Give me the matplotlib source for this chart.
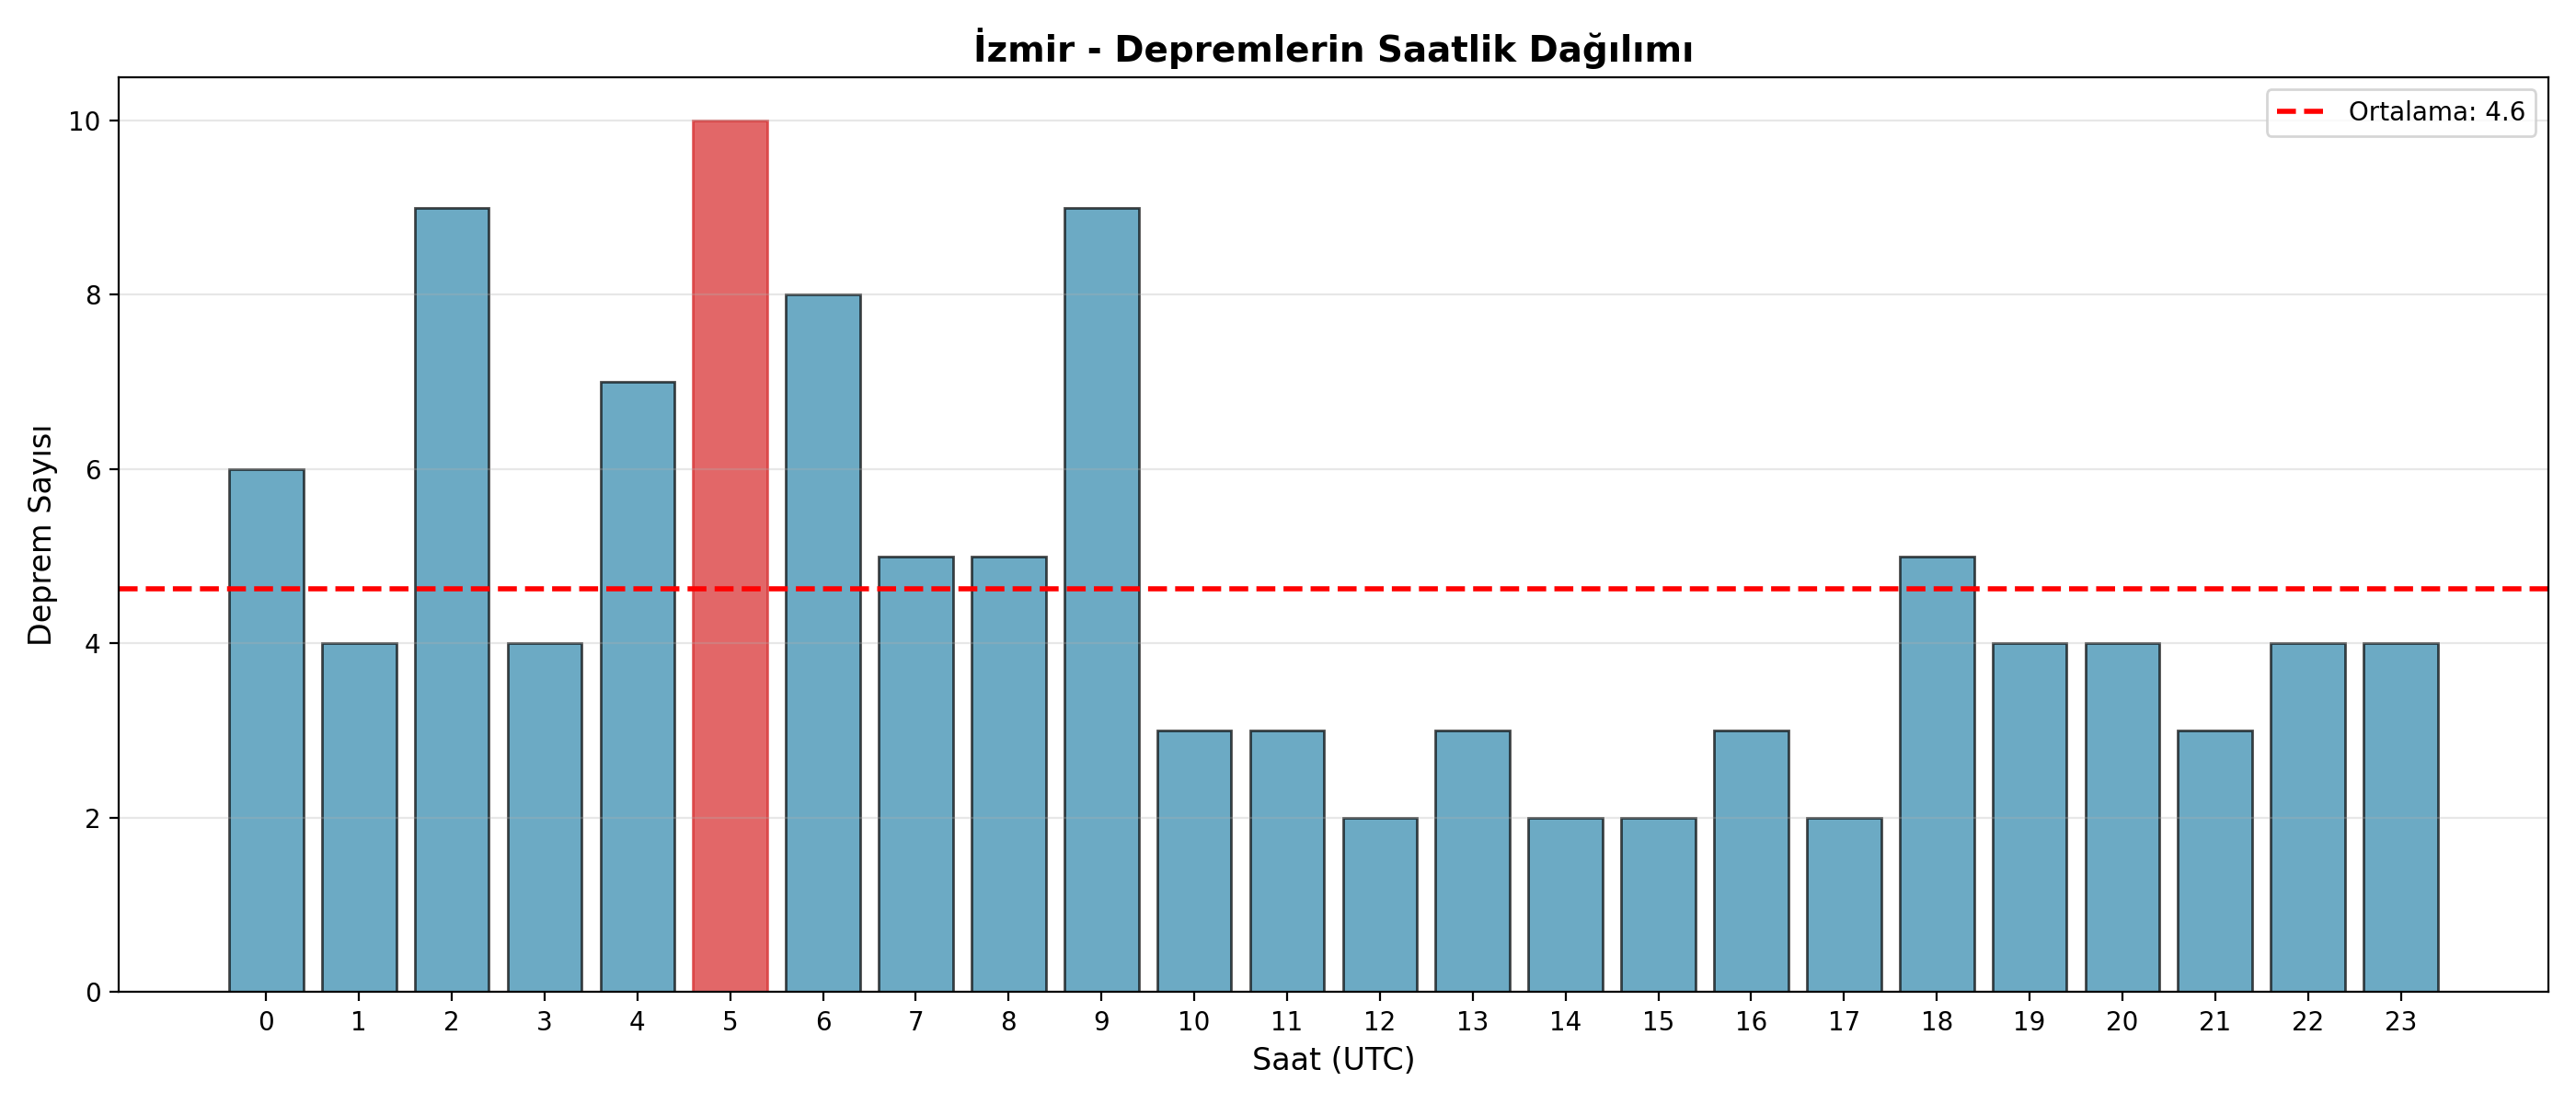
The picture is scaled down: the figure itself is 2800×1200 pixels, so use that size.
import numpy as np
import matplotlib
matplotlib.use('Agg')
import matplotlib.pyplot as plt

hours = list(range(24))
counts = [6, 4, 9, 4, 7, 10, 8, 5, 5, 9, 3, 3, 2, 3, 2, 2, 3, 2, 5, 4, 4, 3, 4, 4]

mean = np.mean(counts)
peak = int(np.argmax(counts))

colors = ['#d62728' if i == peak else '#2E86AB' for i in hours]
edges = ['#d62728' if i == peak else 'black' for i in hours]

fig, ax = plt.subplots(figsize=(14, 6), dpi=200)
ax.bar(hours, counts, color=colors, edgecolor=edges, alpha=0.7, linewidth=1.0)
ax.axhline(mean, color='red', linestyle='--', linewidth=2, label=f'Ortalama: {mean:.1f}')

ax.set_xlabel('Saat (UTC)', fontsize=12)
ax.set_ylabel('Deprem Sayısı', fontsize=12)
ax.set_title('İzmir - Depremlerin Saatlik Dağılımı', fontsize=14, fontweight='bold')
ax.set_xticks(hours)
ax.grid(axis='y', alpha=0.3)
ax.legend()

plt.tight_layout()
plt.savefig('out.png', dpi=200)
